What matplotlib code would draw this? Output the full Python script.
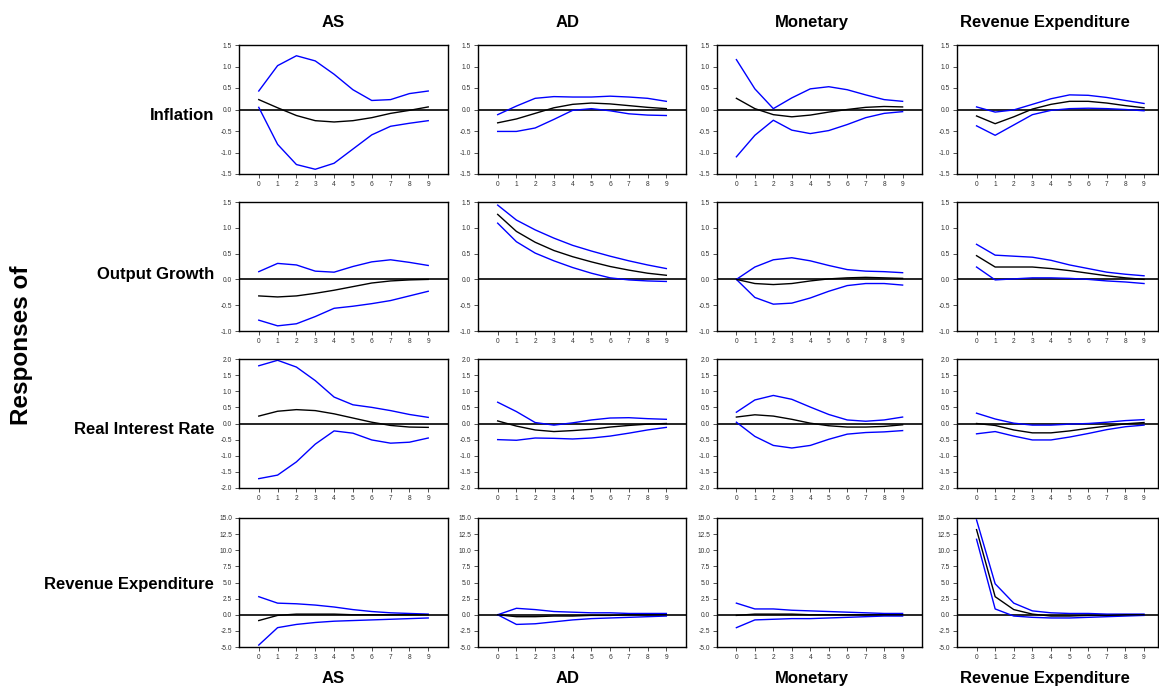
import numpy as np
import matplotlib.pyplot as plt

plt.rcParams['font.family'] = ['Liberation Sans', 'DejaVu Sans']

shocks = ['AS', 'AD', 'Monetary', 'Revenue Expenditure']
responses = ['Inflation', 'Output Growth', 'Real Interest Rate', 'Revenue Expenditure']
horizon = list(range(10))

# impulse responses: (lower band, point estimate, upper band) per [response][shock]
inf_as = ([0.05, -0.81, -1.28, -1.39, -1.25, -0.92, -0.59, -0.39, -0.32, -0.26],
          [0.23, 0.04, -0.14, -0.26, -0.29, -0.26, -0.19, -0.09, -0.02, 0.06],
          [0.43, 1.02, 1.25, 1.13, 0.82, 0.46, 0.21, 0.23, 0.37, 0.43])
inf_ad = ([-0.51, -0.51, -0.43, -0.23, -0.02, 0.02, -0.03, -0.10, -0.13, -0.14],
          [-0.31, -0.22, -0.09, 0.04, 0.12, 0.15, 0.13, 0.09, 0.05, 0.02],
          [-0.12, 0.08, 0.26, 0.30, 0.29, 0.29, 0.31, 0.29, 0.26, 0.19])
inf_mon = ([-1.10, -0.60, -0.25, -0.48, -0.56, -0.49, -0.35, -0.19, -0.09, -0.05],
           [0.26, 0.02, -0.12, -0.17, -0.13, -0.06, 0.0, 0.05, 0.07, 0.06],
           [1.16, 0.48, 0.02, 0.27, 0.48, 0.53, 0.46, 0.34, 0.23, 0.19])
inf_rev = ([-0.38, -0.60, -0.36, -0.12, -0.02, 0.02, 0.03, 0.02, 0.0, -0.03],
           [-0.15, -0.33, -0.17, 0.01, 0.12, 0.19, 0.19, 0.15, 0.09, 0.04],
           [0.06, -0.06, -0.01, 0.12, 0.25, 0.34, 0.33, 0.28, 0.21, 0.14])

out_as = ([-0.79, -0.90, -0.86, -0.72, -0.56, -0.52, -0.47, -0.41, -0.32, -0.23],
          [-0.32, -0.34, -0.32, -0.27, -0.21, -0.14, -0.07, -0.03, -0.01, 0.0],
          [0.15, 0.31, 0.28, 0.16, 0.14, 0.25, 0.34, 0.38, 0.33, 0.27])
out_ad = ([1.09, 0.73, 0.51, 0.36, 0.23, 0.12, 0.03, -0.01, -0.03, -0.04],
          [1.26, 0.93, 0.72, 0.56, 0.44, 0.34, 0.25, 0.18, 0.12, 0.08],
          [1.44, 1.15, 0.96, 0.80, 0.66, 0.55, 0.45, 0.36, 0.28, 0.21])
out_mon = ([0.0, -0.35, -0.48, -0.46, -0.36, -0.23, -0.12, -0.08, -0.08, -0.11],
           [0.0, -0.08, -0.10, -0.08, -0.03, 0.01, 0.03, 0.04, 0.03, 0.02],
           [0.0, 0.24, 0.38, 0.42, 0.36, 0.27, 0.19, 0.16, 0.15, 0.13])
out_rev = ([0.24, -0.01, 0.01, 0.03, 0.03, 0.02, 0.0, -0.03, -0.05, -0.08],
           [0.46, 0.24, 0.24, 0.24, 0.21, 0.17, 0.12, 0.07, 0.03, 0.0],
           [0.68, 0.47, 0.45, 0.43, 0.37, 0.28, 0.21, 0.14, 0.10, 0.07])

rir_as = ([-1.71, -1.60, -1.19, -0.64, -0.23, -0.30, -0.51, -0.61, -0.58, -0.45],
          [0.23, 0.38, 0.43, 0.40, 0.30, 0.17, 0.04, -0.06, -0.11, -0.12],
          [1.79, 1.96, 1.75, 1.33, 0.82, 0.58, 0.50, 0.40, 0.28, 0.19])
rir_ad = ([-0.50, -0.52, -0.45, -0.46, -0.48, -0.45, -0.39, -0.30, -0.20, -0.12],
          [0.08, -0.08, -0.20, -0.25, -0.22, -0.18, -0.11, -0.06, -0.02, 0.0],
          [0.66, 0.37, 0.03, -0.05, 0.02, 0.11, 0.17, 0.18, 0.15, 0.13])
rir_mon = ([0.04, -0.40, -0.68, -0.76, -0.68, -0.49, -0.33, -0.28, -0.26, -0.22],
           [0.20, 0.27, 0.23, 0.13, 0.01, -0.07, -0.11, -0.11, -0.09, -0.04],
           [0.35, 0.73, 0.87, 0.75, 0.51, 0.28, 0.11, 0.07, 0.11, 0.20])
rir_rev = ([-0.32, -0.25, -0.39, -0.51, -0.51, -0.42, -0.31, -0.19, -0.10, -0.05],
           [0.0, -0.06, -0.20, -0.29, -0.29, -0.23, -0.15, -0.08, -0.01, 0.03],
           [0.32, 0.14, 0.01, -0.05, -0.05, -0.02, 0.0, 0.04, 0.09, 0.12])

rev_as = ([-4.7, -2.0, -1.5, -1.2, -1.0, -0.9, -0.8, -0.7, -0.6, -0.5],
          [-0.9, -0.1, 0.1, 0.1, 0.1, 0.0, 0.0, 0.0, 0.0, 0.0],
          [2.8, 1.8, 1.7, 1.5, 1.2, 0.8, 0.5, 0.3, 0.2, 0.1])
rev_ad = ([0.0, -1.5, -1.4, -1.1, -0.8, -0.6, -0.5, -0.4, -0.3, -0.2],
          [0.0, -0.3, -0.3, -0.2, -0.2, -0.1, -0.1, 0.0, 0.0, 0.0],
          [0.0, 1.0, 0.8, 0.5, 0.4, 0.3, 0.3, 0.2, 0.2, 0.2])
rev_mon = ([-2.0, -0.8, -0.7, -0.6, -0.6, -0.5, -0.4, -0.3, -0.2, -0.2],
           [-0.1, 0.1, 0.1, 0.1, 0.0, 0.0, 0.0, 0.0, 0.0, 0.0],
           [1.8, 0.9, 0.9, 0.7, 0.6, 0.5, 0.4, 0.3, 0.2, 0.2])
rev_rev = ([11.7, 0.9, -0.2, -0.4, -0.5, -0.5, -0.4, -0.3, -0.2, -0.1],
           [13.2, 2.8, 0.8, 0.1, -0.2, -0.2, -0.1, -0.1, 0.0, 0.0],
           [14.7, 4.8, 1.8, 0.6, 0.3, 0.2, 0.2, 0.1, 0.1, 0.1])

irf = [[inf_as, inf_ad, inf_mon, inf_rev],
       [out_as, out_ad, out_mon, out_rev],
       [rir_as, rir_ad, rir_mon, rir_rev],
       [rev_as, rev_ad, rev_mon, rev_rev]]

row_ticks = [[-1.5, -1.0, -0.5, 0.0, 0.5, 1.0, 1.5],
             [-1.0, -0.5, 0.0, 0.5, 1.0, 1.5],
             [-2.0, -1.5, -1.0, -0.5, 0.0, 0.5, 1.0, 1.5, 2.0],
             [-5.0, -2.5, 0.0, 2.5, 5.0, 7.5, 10.0, 12.5, 15.0]]

W, H = 1159, 691
fig = plt.figure(figsize=(W / 100, H / 100), dpi=100)

col_left = [239, 478, 717, 957]
col_width = [209, 208, 205, 201]
row_top = [45, 202, 359, 518]
row_h = 129

for i in range(4):
    for j in range(4):
        ax = fig.add_axes([col_left[j] / W, 1 - (row_top[i] + row_h) / H,
                           col_width[j] / W, row_h / H])
        lo, mid, hi = irf[i][j]
        ax.axhline(0, color='black', lw=1.2, zorder=1)
        ax.plot(horizon, hi, color='#0000ff', lw=1.0)
        ax.plot(horizon, lo, color='#0000ff', lw=1.0)
        ax.plot(horizon, mid, color='black', lw=1.0)
        ticks = row_ticks[i]
        ax.set_ylim(ticks[0], ticks[-1])
        ax.set_yticks(ticks)
        ax.set_yticklabels(['%.1f' % t for t in ticks])
        ax.set_xticks(horizon)
        ax.set_xlim(-1.05, 10.05 if j < 3 else 9.75)
        ax.tick_params(labelsize=4.8, length=3, width=0.6, pad=2,
                       colors='#333333', direction='out')
        for s in ax.spines.values():
            s.set_linewidth(1.0)
            s.set_color('black')

col_center = [333, 568, 812, 1045]
for j in range(4):
    fig.text(col_center[j] / W, 1 - 27 / H, shocks[j], ha='center', va='baseline',
             fontsize=12, fontweight='bold')
    fig.text(col_center[j] / W, 1 - 683 / H, shocks[j], ha='center', va='baseline',
             fontsize=12, fontweight='bold')

label_y = [115, 275, 430, 585]
for i in range(4):
    fig.text(214 / W, 1 - label_y[i] / H, responses[i], ha='right', va='center',
             fontsize=12, fontweight='bold')

fig.text(22 / W, 1 - 345 / H, 'Responses of', rotation=90, ha='center',
         va='center', fontsize=17.5, fontweight='bold')

fig.savefig('out.png', dpi=100)
